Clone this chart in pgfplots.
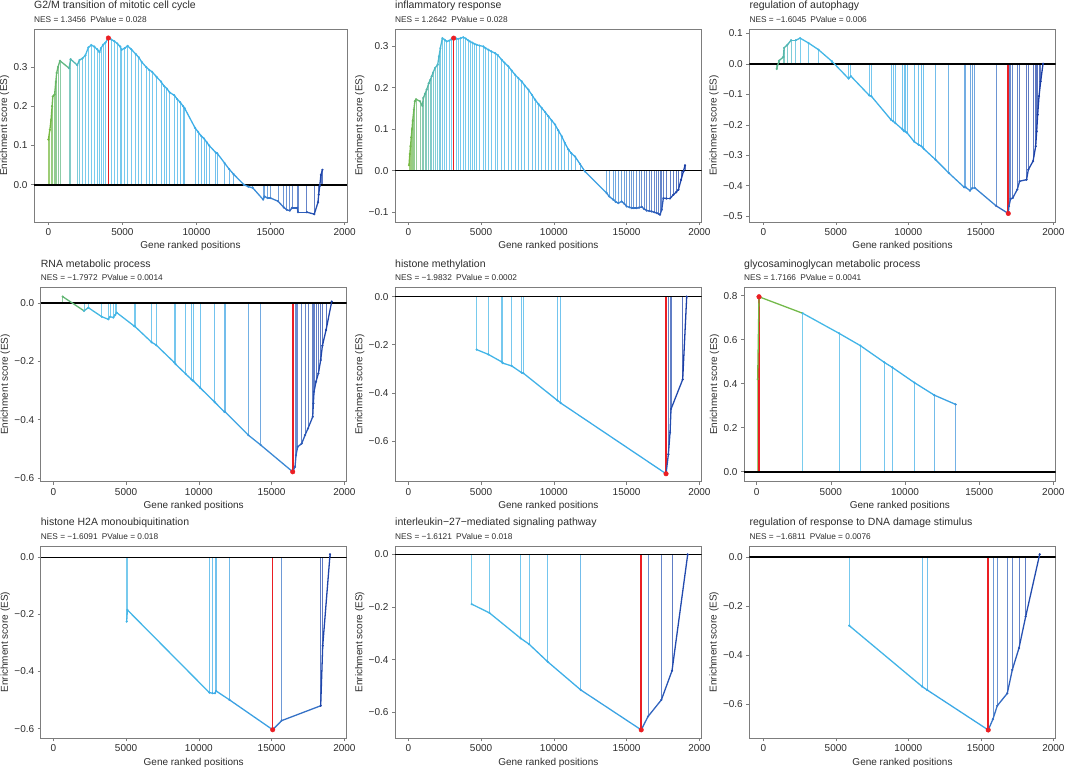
\documentclass[border=0pt]{standalone}
\usepackage{pgfplots}
\pgfplotsset{compat=1.18}
\usepackage{pgfplotstable}
\usepackage{fontspec}
\setmainfont{Liberation Sans}
\definecolor{framegrey}{RGB}{125,125,125}
\definecolor{txt}{RGB}{45,45,45}
\definecolor{esred}{RGB}{235,30,35}
\pgfplotsset{
  colormap={gsea}{rgb255(0cm)=(120,185,60) rgb255(2cm)=(90,182,150) rgb255(5cm)=(70,185,230) rgb255(22cm)=(60,172,232) rgb255(28cm)=(60,140,215) rgb255(33cm)=(50,100,190) rgb255(38cm)=(25,60,165)},
  gsea/.style={
    scale only axis,
    colormap name=gsea, point meta min=0, point meta max=19000,
    axis line style={framegrey, line width=0.6pt},
    tick pos=left, tick align=outside, major tick length=3pt,
    tick style={framegrey, line width=0.6pt},
    xtick={0,5000,10000,15000,20000}, xticklabels={0,5000,10000,15000,2000},
    scaled x ticks=false, scaled y ticks=false,
    xmax=20160,
    ticklabel style={font=\fontsize{10}{12}\selectfont, text=txt},
    xlabel={Gene ranked positions}, ylabel={Enrichment score (ES)},
    label style={font=\fontsize{10}{12}\selectfont, text=txt},
    ylabel style={yshift=-2.5pt},
    xlabel style={yshift=1pt},
  },
}
\newcommand{\esplots}[4]{%
  \addplot[quiver={u=0,v={-1*(\thisrow{y})},colored=mapped color!72!white}, point meta=x, line width=0.8pt, -] table[x=x,y=y]{#1};
  \addplot[esred, line width=1.6pt] coordinates {(#3,0) (#3,#4)};
  \addplot[black, line width=1.6pt] coordinates {(#2,0) (20160,0)};
  \addplot[mesh, shader=flat corner, point meta=x, line width=1.3pt] table[x=x,y=y]{#1};
  \addplot[scatter, only marks, mark=*, mark size=0.9pt, point meta=x, scatter/use mapped color={draw=mapped color, fill=mapped color}] table[x=x,y=y]{#1};
  \addplot[only marks, mark=*, mark size=2.3pt, esred] coordinates {(#3,#4)};
}
\newcommand{\ptitle}[3]{%
  \node[anchor=base west, inner sep=0pt, font=\fontsize{10.5}{12}\selectfont, text=txt] at ([yshift=20pt]#1.north west) {#2};
  \node[anchor=base west, inner sep=0pt, font=\fontsize{8.3}{9}\selectfont, text=txt] at ([yshift=6.5pt]#1.north west) {#3};
}
\begin{document}
\pgfplotstableread{
x y
0 0.115
100 0.140
180 0.165
250 0.200
300 0.225
420 0.230
500 0.262
560 0.285
650 0.300
780 0.316
1400 0.297
1500 0.320
1950 0.305
2100 0.318
2300 0.322
2500 0.330
2700 0.350
2900 0.356
3100 0.352
3300 0.345
3450 0.338
3550 0.348
3700 0.357
3850 0.362
4050 0.374
4250 0.370
4450 0.366
4650 0.360
4850 0.352
4950 0.344
5150 0.348
5350 0.354
5600 0.345
5900 0.333
6100 0.325
6300 0.313
6600 0.300
6800 0.293
7000 0.288
7300 0.275
7600 0.263
7800 0.252
8000 0.245
8200 0.235
8500 0.228
8700 0.218
8900 0.210
9100 0.200
9200 0.195
9900 0.145
10100 0.135
10300 0.125
10500 0.118
10700 0.108
10850 0.100
11300 0.082
11400 0.080
11900 0.055
12200 0.040
12500 0.027
13200 0.000
13500 -0.005
13800 -0.008
14500 -0.038
14600 -0.030
14800 -0.034
15000 -0.034
15500 -0.042
15900 -0.058
16100 -0.064
16300 -0.066
16450 -0.059
16800 -0.059
16850 -0.070
17450 -0.070
17950 -0.075
18200 -0.045
18250 -0.025
18320 -0.003
18400 0.025
18500 0.038
}\tabA
\pgfplotstableread{
x y
46 0.013
100 0.040
150 0.059
200 0.080
250 0.100
300 0.120
380 0.147
450 0.167
527 0.172
800 0.167
962 0.156
1031 0.175
1150 0.185
1260 0.195
1400 0.210
1500 0.218
1604 0.227
1700 0.236
1833 0.247
2016 0.255
2108 0.275
2200 0.295
2337 0.319
2500 0.315
2635 0.311
2800 0.313
2950 0.316
3116 0.319
3300 0.318
3436 0.317
3600 0.319
3780 0.321
3950 0.318
4100 0.314
4238 0.311
4400 0.308
4550 0.305
4696 0.303
4900 0.301
5155 0.299
5300 0.295
5498 0.291
5700 0.287
5956 0.283
6150 0.278
6414 0.267
6600 0.260
6873 0.251
7100 0.241
7331 0.231
7550 0.223
7789 0.215
8000 0.205
8247 0.195
8500 0.182
8705 0.171
8950 0.160
9164 0.151
9400 0.141
9622 0.131
9850 0.121
10080 0.111
10300 0.097
10538 0.083
10750 0.067
10997 0.051
11200 0.042
11455 0.034
11800 0.016
12142 -0.002
13631 -0.054
13800 -0.062
14089 -0.070
14250 -0.075
14433 -0.078
14662 -0.074
14850 -0.080
15006 -0.086
15200 -0.088
15349 -0.090
15500 -0.090
15693 -0.090
15850 -0.089
16037 -0.087
16200 -0.092
16380 -0.096
16550 -0.097
16724 -0.098
16900 -0.100
17068 -0.102
17200 -0.104
17297 -0.106
17411 -0.094
17526 -0.066
17750 -0.067
17984 -0.067
18213 -0.058
18400 -0.052
18557 -0.046
18740 -0.022
18900 -0.002
19015 0.013
}\tabB
\pgfplotstableread{
x y
922 -0.016
1083 0.011
1382 0.023
1429 0.053
1659 0.063
1912 0.078
2235 0.078
2535 0.085
3111 0.069
3802 0.047
4724 0.009
5876 -0.048
6037 -0.040
7300 -0.103
7450 -0.106
8800 -0.183
8950 -0.188
9101 -0.194
9600 -0.215
9700 -0.221
9800 -0.222
9908 -0.226
10400 -0.255
10700 -0.265
10900 -0.270
11050 -0.278
11866 -0.314
12788 -0.358
13850 -0.405
13950 -0.405
14250 -0.416
14400 -0.408
14585 -0.407
16050 -0.466
16889 -0.491
16935 -0.467
17051 -0.443
17200 -0.440
17512 -0.412
17673 -0.385
18150 -0.380
18272 -0.347
18600 -0.319
18779 -0.270
18848 -0.221
18917 -0.166
19009 -0.106
19124 -0.057
19286 0.001
}\tabC
\pgfplotstableread{
x y
641 0.023
2108 -0.026
2405 -0.015
3322 -0.046
3780 -0.055
3895 -0.046
4124 -0.049
4250 -0.040
4353 -0.032
5550 -0.078
5613 -0.080
6758 -0.134
7056 -0.143
8300 -0.203
8400 -0.209
9100 -0.243
9500 -0.262
9622 -0.267
10080 -0.290
11100 -0.340
11750 -0.373
11798 -0.373
13402 -0.453
14250 -0.487
16449 -0.579
16609 -0.562
16678 -0.522
16793 -0.493
17068 -0.482
17297 -0.453
17500 -0.430
17824 -0.390
17869 -0.344
17915 -0.304
18052 -0.269
18213 -0.241
18373 -0.195
18488 -0.146
18740 -0.092
19129 0.006
}\tabD
\pgfplotstableread{
x y
4696 -0.220
5498 -0.240
6414 -0.271
6483 -0.276
7102 -0.288
7789 -0.316
7904 -0.318
10241 -0.431
10470 -0.442
17709 -0.736
17869 -0.655
17984 -0.565
18052 -0.467
18854 -0.344
19129 0.000
}\tabE
\pgfplotstableread{
x y
67 0.421
157 0.795
3101 0.720
5551 0.629
6989 0.573
8607 0.497
9146 0.474
10629 0.405
11978 0.348
13416 0.306
}\tabF
\pgfplotstableread{
x y
5040 -0.225
5086 -0.184
10722 -0.474
10951 -0.476
11111 -0.476
11180 -0.468
12096 -0.499
15074 -0.604
15693 -0.572
18373 -0.520
18511 -0.310
19015 0.011
}\tabG
\pgfplotstableread{
x y
4353 -0.189
5567 -0.222
7720 -0.319
8293 -0.341
9576 -0.408
11844 -0.515
16003 -0.667
16472 -0.616
17388 -0.553
18121 -0.442
19198 0.000
}\tabH
\pgfplotstableread{
x y
5922 -0.280
10945 -0.529
11290 -0.543
15507 -0.707
15829 -0.663
16129 -0.608
16820 -0.557
17166 -0.461
17627 -0.372
18088 -0.243
19055 0.012
}\tabI
\begin{tikzpicture}
% Row 1
\begin{axis}[gsea, name=p1, at={(34pt,545pt)}, anchor=south west, width=313pt, height=193pt,
  xmin=-970, ymin=-0.095, ymax=0.397,
  ytick={0,0.1,0.2,0.3}, yticklabels={0.0,0.1,0.2,0.3}]
\esplots{\tabA}{-970}{4050}{0.374}
\end{axis}
\ptitle{p1}{G2/M transition of mitotic cell cycle}{NES = 1.3456\enspace PValue = 0.028}
\begin{axis}[gsea, name=p2, at={(395pt,545pt)}, anchor=south west, width=306.7pt, height=193pt,
  xmin=-916, ymin=-0.1235, ymax=0.341,
  ytick={-0.1,0,0.1,0.2,0.3}, yticklabels={−0.1,0.0,0.1,0.2,0.3}]
\esplots{\tabB}{-916}{3116}{0.319}
\end{axis}
\ptitle{p2}{inflammatory response}{NES = 1.2642\enspace PValue = 0.028}
\begin{axis}[gsea, name=p3, at={(749.3pt,545pt)}, anchor=south west, width=306.4pt, height=193pt,
  xmin=-968, ymin=-0.519, ymax=0.115,
  ytick={-0.5,-0.4,-0.3,-0.2,-0.1,0,0.1}, yticklabels={−0.5,−0.4,−0.3,−0.2,−0.1,0.0,0.1}]
\esplots{\tabC}{-968}{16889}{-0.491}
\end{axis}
\ptitle{p3}{regulation of autophagy}{NES = −1.6045\enspace PValue = 0.006}
% Row 2
\begin{axis}[gsea, name=p4, at={(40.7pt,285.3pt)}, anchor=south west, width=306pt, height=194.4pt,
  xmin=-870, ymin=-0.613, ymax=0.055,
  ytick={-0.6,-0.4,-0.2,0}, yticklabels={−0.6,−0.4,−0.2,0.0}]
\esplots{\tabD}{-870}{16449}{-0.579}
\end{axis}
\ptitle{p4}{RNA metabolic process}{NES = −1.7972\enspace PValue = 0.0014}
\begin{axis}[gsea, name=p5, at={(395pt,285.3pt)}, anchor=south west, width=306.7pt, height=194.4pt,
  xmin=-916, ymin=-0.769, ymax=0.039,
  ytick={-0.6,-0.4,-0.2,0}, yticklabels={−0.6,−0.4,−0.2,0.0}]
\esplots{\tabE}{-916}{17709}{-0.736}
\end{axis}
\ptitle{p5}{histone methylation}{NES = −1.9832\enspace PValue = 0.0002}
\begin{axis}[gsea, name=p6, at={(744pt,285.3pt)}, anchor=south west, width=311.7pt, height=194.4pt,
  xmin=-854, ymin=-0.045, ymax=0.838,
  ytick={0,0.2,0.4,0.6,0.8}, yticklabels={0.0,0.2,0.4,0.6,0.8}]
\esplots{\tabF}{-854}{157}{0.795}
\end{axis}
\ptitle{p6}{glycosaminoglycan metabolic process}{NES = 1.7166\enspace PValue = 0.0041}
% Row 3
\begin{axis}[gsea, name=p7, at={(40.7pt,28.7pt)}, anchor=south west, width=306pt, height=192.3pt,
  xmin=-870, ymin=-0.634, ymax=0.040,
  ytick={-0.6,-0.4,-0.2,0}, yticklabels={−0.6,−0.4,−0.2,0.0}]
\esplots{\tabG}{-870}{15074}{-0.604}
\end{axis}
\ptitle{p7}{histone H2A monoubiquitination}{NES = −1.6091\enspace PValue = 0.018}
\begin{axis}[gsea, name=p8, at={(395pt,28.7pt)}, anchor=south west, width=306.7pt, height=192.3pt,
  xmin=-916, ymin=-0.699, ymax=0.032,
  ytick={-0.6,-0.4,-0.2,0}, yticklabels={−0.6,−0.4,−0.2,0.0}]
\esplots{\tabH}{-916}{16003}{-0.667}
\end{axis}
\ptitle{p8}{interleukin−27−mediated signaling pathway}{NES = −1.6121\enspace PValue = 0.018}
\begin{axis}[gsea, name=p9, at={(749.3pt,28.7pt)}, anchor=south west, width=306.4pt, height=192.3pt,
  xmin=-968, ymin=-0.741, ymax=0.046,
  ytick={-0.6,-0.4,-0.2,0}, yticklabels={−0.6,−0.4,−0.2,0.0}]
\esplots{\tabI}{-968}{15507}{-0.707}
\end{axis}
\ptitle{p9}{regulation of response to DNA damage stimulus}{NES = −1.6811\enspace PValue = 0.0076}
\pgfresetboundingbox
\path[use as bounding box] (0,0) rectangle (1065pt,767pt);
\end{tikzpicture}
\end{document}
